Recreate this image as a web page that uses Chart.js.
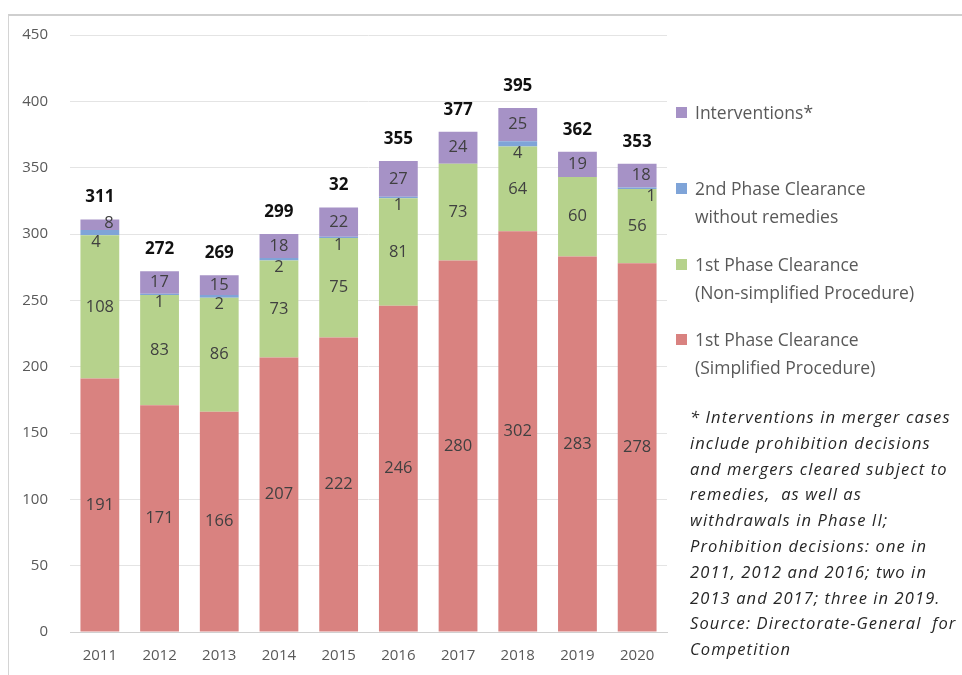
<!DOCTYPE html>
<html>
<head>
<meta charset="utf-8">
<script src="https://cdn.jsdelivr.net/npm/chart.js@4/dist/chart.umd.min.js"></script>
<style>
  html, body { margin: 0; padding: 0; background: #fff; }
  #wrap { position: relative; width: 962px; height: 675px; overflow: hidden; }
  #frame { position: absolute; left: 8px; top: 14px; width: 1000px; height: 700px; border-left: 1px solid #d4d4d4; border-top: 2px solid #cfcfcf; }
  #chartBox { position: absolute; left: 0; top: 0; width: 962px; height: 675px; }
  #legend { position: absolute; left: 676px; top: 98px; font-family: "Open Sans", sans-serif; font-size: 17.5px; color: #595959; }
  .item { position: absolute; left: 0; white-space: nowrap; line-height: 28px; }
  .item span.box { position: absolute; left: 0; top: 9px; width: 11px; height: 11px; }
  .item div { margin-left: 19px; }
  #note { position: absolute; left: 690px; top: 404px; font-family: "Open Sans", sans-serif; font-style: italic; font-size: 16.5px; letter-spacing: 1.1px; line-height: 25.8px; color: #262626; white-space: nowrap; }
</style>
</head>
<body>
<div id="wrap">
  <div id="frame"></div>
  <div id="chartBox"><canvas id="myChart" width="962" height="675"></canvas></div>
  <div id="legend"></div>
  <div id="note">* Interventions in merger cases<br>include prohibition decisions<br>and mergers cleared subject to<br>remedies, &nbsp;as well as<br>withdrawals in Phase II;<br>Prohibition decisions: one in<br>2011, 2012 and 2016; two in<br>2013 and 2017; three in 2019.<br>Source: Directorate-General &nbsp;for<br>Competition</div>
</div>
<script>
const years = ['2011', '2012', '2013', '2014', '2015', '2016', '2017', '2018', '2019', '2020'];
const simplified = [191, 171, 166, 207, 222, 246, 280, 302, 283, 278];
const nonSimplified = [108, 83, 86, 73, 75, 81, 73, 64, 60, 56];
const phase2 = [4, 1, 2, 2, 1, 1, 0, 4, 0, 1];
const interventions = [8, 17, 15, 18, 22, 27, 24, 25, 19, 18];
const totalLabels = ['311', '272', '269', '299', '32', '355', '377', '395', '362', '353'];

const colors = {
    red: '#d98280',
    green: '#b6d28c',
    blue: '#7fa4d8',
    purple: '#a692c6'
};

const legendItems = [
    { lines: ['Interventions*'], color: colors.purple, top: 0 },
    { lines: ['2nd Phase Clearance', 'without remedies'], color: colors.blue, top: 76 },
    { lines: ['1st Phase Clearance', '(Non-simplified Procedure)'], color: colors.green, top: 152 },
    { lines: ['1st Phase Clearance', '(Simplified Procedure)'], color: colors.red, top: 227 }
];

legendItems.forEach(function (it) {
    const el = document.createElement('div');
    el.className = 'item';
    el.style.top = it.top + 'px';
    el.innerHTML = `<span class="box" style="background:${it.color}"></span><div>${it.lines.join('<br>')}</div>`;
    document.getElementById('legend').appendChild(el);
});

// segment values + totals drawn on the canvas
const labelPlugin = {
    id: 'segLabels',
    afterDatasetsDraw(chart) {
        const ctx = chart.ctx;
        ctx.save();
        ctx.textAlign = 'center';
        ctx.textBaseline = 'middle';
        chart.data.datasets.forEach(function (ds, di) {
            const meta = chart.getDatasetMeta(di);
            meta.data.forEach(function (bar, i) {
                const v = ds.data[i];
                if (!v) return;
                let y = (bar.y + bar.base) / 2;
                let x = bar.x;
                if (di === 2) {
                    y = bar.base + 7;
                    if (i === 0) x -= 4;
                    if (i === 9) x += 14;
                }
                if (di === 3 && (i === 0)) { x += 9; y -= 1; }
                if (di === 3 && i === 9) { x += 4; }
                ctx.font = '16.5px "Open Sans", sans-serif';
                ctx.fillStyle = '#404040';
                ctx.fillText(v, x, y);
            });
        });
        const top = chart.getDatasetMeta(3);
        ctx.font = 'bold 17px "Open Sans", sans-serif';
        ctx.fillStyle = '#111';
        top.data.forEach(function (bar, i) {
            ctx.fillText(totalLabels[i], bar.x, bar.y - 22);
        });
        ctx.restore();
    }
};

const ctx = document.getElementById('myChart').getContext('2d');
const myChart = new Chart(ctx, {
    type: 'bar',
    data: {
        labels: years,
        datasets: [
            { label: '1st Phase Clearance (Simplified Procedure)', data: simplified, backgroundColor: colors.red },
            { label: '1st Phase Clearance (Non-simplified Procedure)', data: nonSimplified, backgroundColor: colors.green },
            { label: '2nd Phase Clearance without remedies', data: phase2, backgroundColor: colors.blue },
            { label: 'Interventions*', data: interventions, backgroundColor: colors.purple }
        ]
    },
    options: {
        responsive: false,
        animation: false,
        layout: { padding: { left: 0, right: 295, top: 35, bottom: 3 } },
        datasets: { bar: { barPercentage: 0.65, categoryPercentage: 1.0, borderWidth: 0 } },
        plugins: { legend: { display: false }, tooltip: { enabled: false } },
        scales: {
            x: {
                stacked: true,
                grid: { display: false },
                border: { color: '#d0d0d0' },
                ticks: { color: '#595959', font: { family: 'Open Sans', size: 15 }, padding: 7 }
            },
            y: {
                stacked: true,
                min: 0,
                max: 450,
                ticks: { stepSize: 50, color: '#595959', font: { family: 'Open Sans', size: 15 }, padding: 22 },
                grid: { color: '#e4e4e4', drawTicks: false },
                border: { display: false },
                afterFit(scale) { scale.width = 70; }
            }
        }
    },
    plugins: [labelPlugin]
});
</script>
</body>
</html>
